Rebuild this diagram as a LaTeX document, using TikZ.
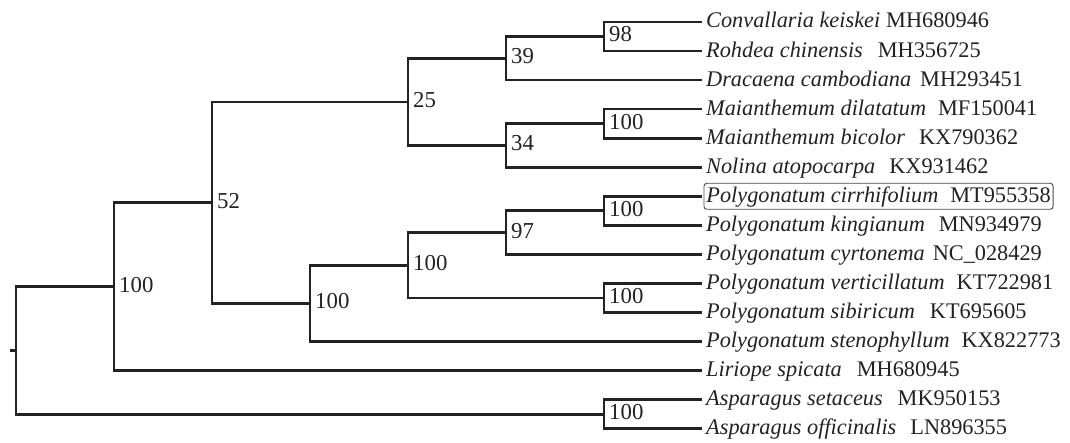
\documentclass[tikz,border=0pt]{standalone}
\usepackage{fontspec}
\setmainfont{Liberation Serif}
\definecolor{treeink}{HTML}{222222}
\definecolor{boxink}{HTML}{4a4a4a}
% species name (italic), gap, accession number
\newcommand\taxlabel[3]{\textit{#1}\hspace{#2pt}#3}
\begin{document}
\begin{tikzpicture}[x=1pt,y=-1pt,
  branch/.style={draw=treeink, line width=2.7pt},
  boot/.style={anchor=west, inner sep=0pt, xshift=5pt, yshift=2pt,
    text=treeink, font=\fontsize{22.8}{27}\selectfont},
  taxon/.style={anchor=west, inner sep=0pt, text height=16pt, text depth=4pt,
    text=treeink, font=\fontsize{22.3}{27}\selectfont},
  mark box/.style={draw=boxink, line width=0.9pt, rounded corners=3pt,
    inner xsep=2.5pt, inner ysep=3pt}]
\useasboundingbox (0,0) rectangle (1070,443);

% leaf tips
\coordinate (l1)  at (702,22);
\coordinate (l2)  at (702,51.05);
\coordinate (l3)  at (702,80.1);
\coordinate (l4)  at (702,109.15);
\coordinate (l5)  at (702,138.2);
\coordinate (l6)  at (702,167.25);
\coordinate (l7)  at (702,196.3);
\coordinate (l8)  at (702,225.35);
\coordinate (l9)  at (702,254.4);
\coordinate (l10) at (702,283.45);
\coordinate (l11) at (702,312.5);
\coordinate (l12) at (702,341.55);
\coordinate (l13) at (702,370.6);
\coordinate (l14) at (702,399.65);
\coordinate (l15) at (702,428.7);

% internal nodes
\coordinate (G) at (604,36.5);
\coordinate (E) at (506,58.3);
\coordinate (H) at (604,123.7);
\coordinate (F) at (506,145.5);
\coordinate (C) at (408,101.9);
\coordinate (L) at (604,210.8);
\coordinate (J) at (506,232.6);
\coordinate (K) at (604,298);
\coordinate (I) at (408,265.3);
\coordinate (D) at (310,303.4);
\coordinate (B) at (212,202.7);
\coordinate (A) at (114,286.6);
\coordinate (M) at (604,414.2);
\coordinate (R) at (16,350.4);
\coordinate (stub) at (10,350.4);

% branches
\draw[branch] (G) |- (l1);  \draw[branch] (G) |- (l2);
\draw[branch] (E) |- (G);   \draw[branch] (E) |- (l3);
\draw[branch] (H) |- (l4);  \draw[branch] (H) |- (l5);
\draw[branch] (F) |- (H);   \draw[branch] (F) |- (l6);
\draw[branch] (C) |- (E);   \draw[branch] (C) |- (F);
\draw[branch] (L) |- (l7);  \draw[branch] (L) |- (l8);
\draw[branch] (J) |- (L);   \draw[branch] (J) |- (l9);
\draw[branch] (K) |- (l10); \draw[branch] (K) |- (l11);
\draw[branch] (I) |- (J);   \draw[branch] (I) |- (K);
\draw[branch] (D) |- (I);   \draw[branch] (D) |- (l12);
\draw[branch] (B) |- (C);   \draw[branch] (B) |- (D);
\draw[branch] (A) |- (B);   \draw[branch] (A) |- (l13);
\draw[branch] (M) |- (l14); \draw[branch] (M) |- (l15);
\draw[branch] (R) |- (A);   \draw[branch] (R) |- (M);
\draw[branch] (stub) -- (R);

% bootstrap support
\node[boot] (bG) at (G) {98};
\node[boot] (bE) at (E) {39};
\node[boot] (bC) at (C) {25};
\node[boot] (bH) at (H) {100};
\node[boot] (bF) at (F) {34};
\node[boot] (bB) at (B) {52};
\node[boot] (bL) at (L) {100};
\node[boot] (bJ) at (J) {97};
\node[boot] (bI) at (I) {100};
\node[boot] (bK) at (K) {100};
\node[boot] (bD) at (D) {100};
\node[boot] (bA) at (A) {100};
\node[boot] (bM) at (M) {100};

% taxon labels
\node[taxon] (t1)  at (706,22)     {\taxlabel{Convallaria keiskei}{6}{MH680946}};
\node[taxon] (t2)  at (706,51.05)  {\taxlabel{Rohdea chinensis}{15}{MH356725}};
\node[taxon] (t3)  at (706,80.1)   {\taxlabel{Dracaena cambodiana}{9}{MH293451}};
\node[taxon] (t4)  at (706,109.15) {\taxlabel{Maianthemum dilatatum}{12}{MF150041}};
\node[taxon] (t5)  at (706,138.2)  {\taxlabel{Maianthemum bicolor}{14}{KX790362}};
\node[taxon] (t6)  at (706,167.25) {\taxlabel{Nolina atopocarpa}{14}{KX931462}};
\node[taxon, mark box] (t7) at (703.5,196.3) {\taxlabel{Polygonatum cirrhifolium}{12}{MT955358}};
\node[taxon] (t8)  at (706,225.35) {\taxlabel{Polygonatum kingianum}{14}{MN934979}};
\node[taxon] (t9)  at (706,254.4)  {\taxlabel{Polygonatum cyrtonema}{8}{NC\_028429}};
\node[taxon] (t10) at (706,283.45) {\taxlabel{Polygonatum verticillatum}{12}{KT722981}};
\node[taxon] (t11) at (706,312.5)  {\taxlabel{Polygonatum sibiricum}{15}{KT695605}};
\node[taxon] (t12) at (706,341.55) {\taxlabel{Polygonatum stenophyllum}{12}{KX822773}};
\node[taxon] (t13) at (706,370.6)  {\taxlabel{Liriope spicata}{15}{MH680945}};
\node[taxon] (t14) at (706,399.65) {\taxlabel{Asparagus setaceus}{15}{MK950153}};
\node[taxon] (t15) at (706,428.7)  {\taxlabel{Asparagus officinalis}{14}{LN896355}};
\end{tikzpicture}
\end{document}
